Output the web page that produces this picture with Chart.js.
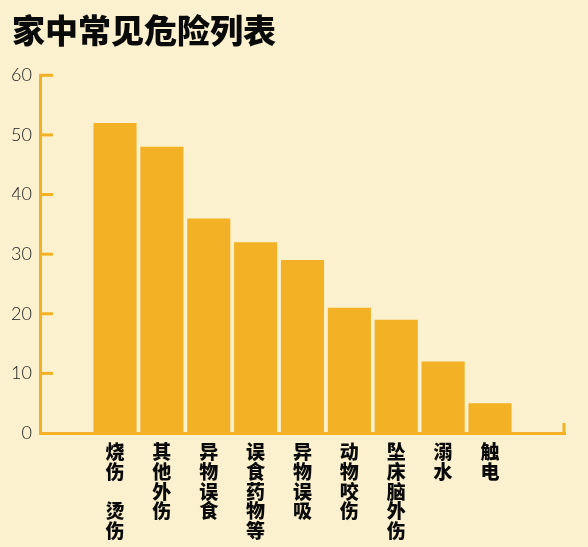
<!DOCTYPE html>
<html>
<head>
<meta charset="utf-8">
<script src="https://cdn.jsdelivr.net/npm/chart.js@4"></script>
<style>
  html, body { margin: 0; padding: 0; background: #fbf1cf; }
  #wrap { width: 588px; height: 547px; }
</style>
</head>
<body>
<div id="wrap"><canvas id="grafico"></canvas></div>
<script>
const categorias = [
  ['烧', '伤', ' ', '烫', '伤'],
  ['其', '他', '外', '伤'],
  ['异', '物', '误', '食'],
  ['误', '食', '药', '物', '等'],
  ['异', '物', '误', '吸'],
  ['动', '物', '咬', '伤'],
  ['坠', '床', '脑', '外', '伤'],
  ['溺', '水'],
  ['触', '电']
];
const valores = [52, 48, 36, 32, 29, 21, 19, 12, 5];
const ticksY = [0, 10, 20, 30, 40, 50, 60];

const laranja = '#f3b226';

// small tick stubs pointing into the plot, plus the upturn at the end of the x axis
const eixoPlugin = {
  id: 'eixo',
  afterDraw(chart) {
    const c = chart.ctx;
    const y = chart.scales.y;
    const area = chart.chartArea;
    c.save();
    c.strokeStyle = laranja;
    c.lineWidth = 3;
    ticksY.forEach(v => {
      if (v === 0) return;
      const py = y.getPixelForValue(v);
      c.beginPath();
      c.moveTo(area.left, py);
      c.lineTo(area.left + 13, py);
      c.stroke();
    });
    c.beginPath();
    c.moveTo(area.right - 1, y.getPixelForValue(0));
    c.lineTo(area.right - 1, y.getPixelForValue(0) - 10);
    c.stroke();
    c.restore();
  }
};

const ctx = document.getElementById('grafico').getContext('2d');

const myChart = new Chart(ctx, {
  type: 'bar',
  data: {
    datasets: [{
      data: valores.map((v, i) => ({ x: i, y: v })),
      backgroundColor: laranja,
      barPercentage: 0.92,
      categoryPercentage: 1
    }]
  },
  plugins: [eixoPlugin],
  options: {
    responsive: true,
    maintainAspectRatio: false,
    animation: false,
    layout: { padding: { left: 12, right: 23, top: 0, bottom: 0 } },
    plugins: {
      legend: { display: false },
      tooltip: { enabled: false },
      title: {
        display: true,
        text: '家中常见危险列表',
        align: 'start',
        color: '#0a0a0a',
        font: { family: '"Noto Sans CJK SC"', size: 33, weight: '900', lineHeight: 1.1 },
        padding: { top: 12, bottom: 27 }
      }
    },
    scales: {
      x: {
        type: 'linear',
        offset: false,
        min: -1.6,
        max: 9.6,
        afterBuildTicks: s => { s.ticks = categorias.map((c, i) => ({ value: i })); },
        afterFit: s => { s.height = 114; },
        grid: { display: false, drawTicks: false },
        border: { color: laranja, width: 3 },
        ticks: {
          autoSkip: false,
          maxRotation: 0,
          padding: 9,
          color: '#0a0a0a',
          font: { family: '"Noto Sans CJK SC"', size: 19, weight: '900', lineHeight: 1.04 },
          callback: v => categorias[v] || ''
        }
      },
      y: {
        min: 0,
        max: 60,
        afterBuildTicks: s => { s.ticks = ticksY.map(v => ({ value: v })); },
        afterFit: s => { s.width = 28; },
        grid: { display: false, drawTicks: false },
        border: { color: laranja, width: 3 },
        ticks: {
          padding: 8,
          color: '#1a1a1a',
          font: { family: 'Lato', size: 18, weight: '300' }
        }
      }
    }
  }
});
</script>
</body>
</html>
